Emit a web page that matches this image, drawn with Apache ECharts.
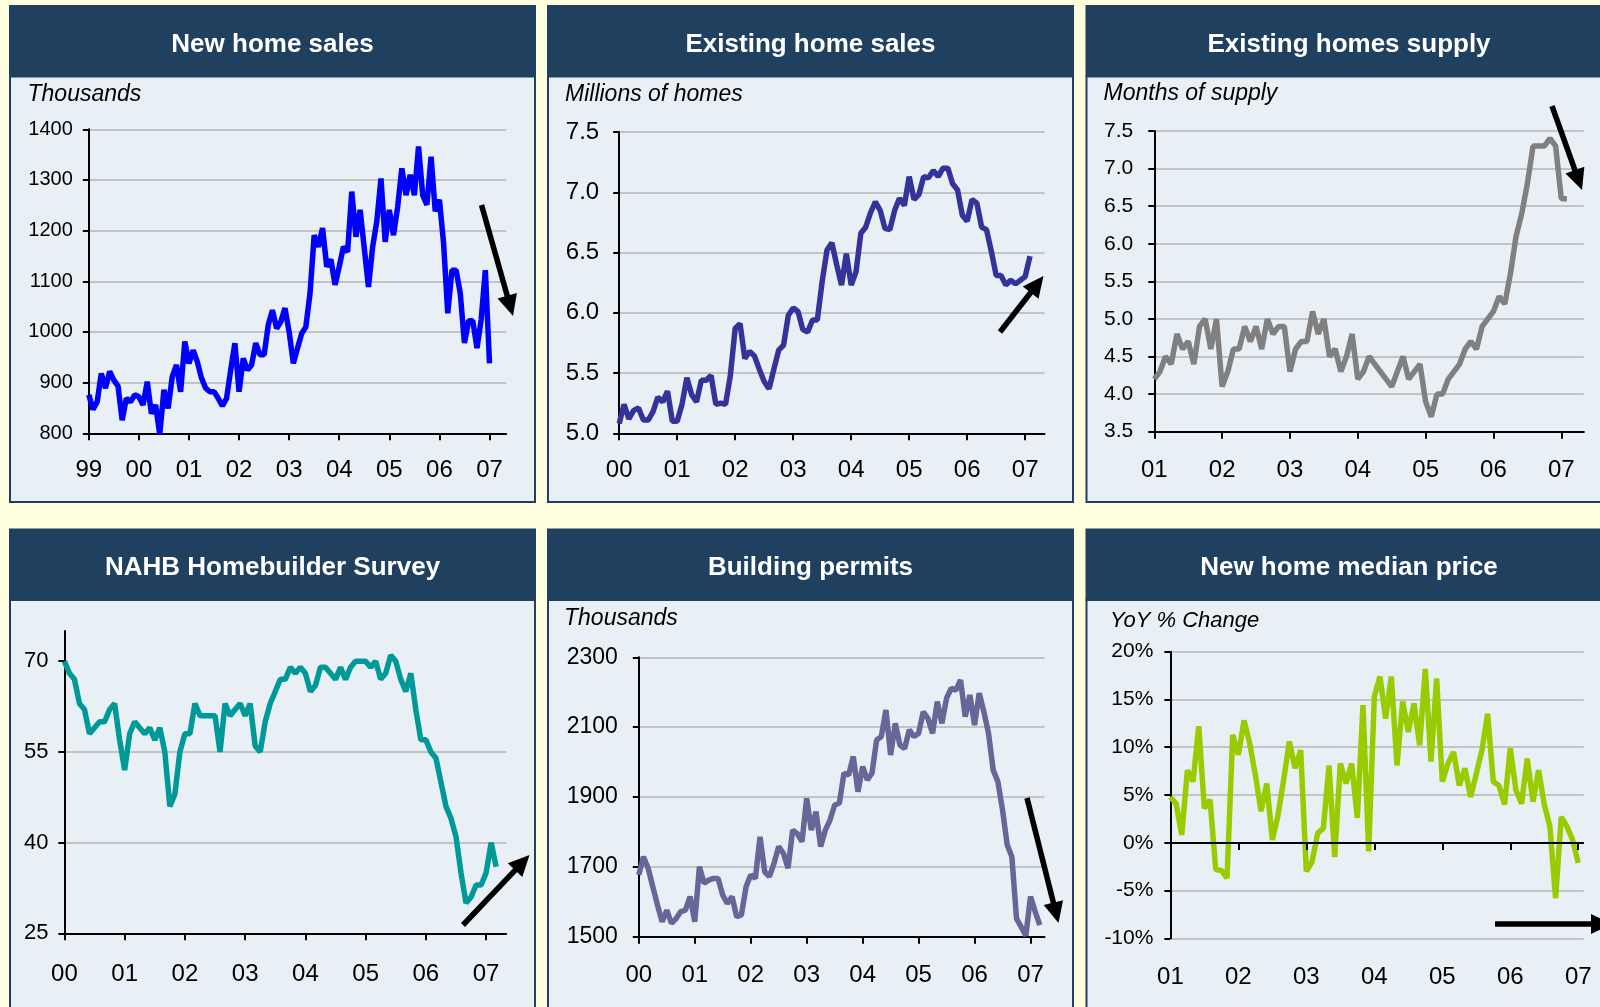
<!DOCTYPE html>
<html>
<head>
<meta charset="utf-8">
<script src="https://cdn.jsdelivr.net/npm/echarts@6/dist/echarts.min.js"></script>
<style>
  html, body { margin: 0; padding: 0; background: #ffffe0; }
  #main { width: 1600px; height: 1007px; }
</style>
</head>
<body>
<div id="main"></div>
<script>
// year tick labels, one per January
var years99 = ['99', '00', '01', '02', '03', '04', '05', '06', '07']
var years00 = ['00', '01', '02', '03', '04', '05', '06', '07']
var years01 = ['01', '02', '03', '04', '05', '06', '07']

// monthly values
var newHomeSales = [876, 847, 862, 918, 889, 922, 905, 893, 826, 869, 862, 876,
  872, 856, 902, 839, 856, 798, 886, 849, 912, 935, 882, 981,
  938, 964, 941, 909, 889, 882, 882, 869, 854, 869, 925, 978,
  882, 948, 925, 935, 978, 955, 955, 1014, 1043, 1007, 1020, 1047,
  1000, 938, 968, 997, 1010, 1076, 1191, 1168, 1205, 1129, 1143, 1093,
  1129, 1168, 1158, 1277, 1188, 1241, 1165, 1089, 1168, 1218, 1303, 1178,
  1241, 1191, 1247, 1323, 1270, 1310, 1270, 1366, 1270, 1251, 1346, 1238,
  1261, 1175, 1037, 1122, 1122, 1076, 978, 1022, 1022, 968, 1024, 1122,
  938]

var existingHomeSales = [5.08, 5.24, 5.12, 5.19, 5.21, 5.11, 5.11, 5.18, 5.30, 5.26, 5.35, 5.10,
  5.10, 5.24, 5.46, 5.32, 5.26, 5.44, 5.44, 5.48, 5.24, 5.25, 5.24, 5.48,
  5.87, 5.91, 5.62, 5.68, 5.64, 5.53, 5.43, 5.37, 5.53, 5.69, 5.73, 5.98,
  6.04, 6.01, 5.86, 5.84, 5.94, 5.94, 6.26, 6.52, 6.58, 6.40, 6.23, 6.49,
  6.23, 6.34, 6.66, 6.71, 6.83, 6.92, 6.85, 6.70, 6.69, 6.85, 6.95, 6.89,
  7.13, 6.94, 6.98, 7.13, 7.12, 7.18, 7.13, 7.20, 7.20, 7.07, 7.02, 6.81,
  6.76, 6.94, 6.91, 6.71, 6.69, 6.51, 6.31, 6.31, 6.23, 6.27, 6.24, 6.27,
  6.30, 6.47]

var monthsSupply = [4.2, 4.3, 4.5, 4.4, 4.8, 4.6, 4.7, 4.4, 4.9, 5.0, 4.6, 5.0,
  4.1, 4.3, 4.6, 4.6, 4.9, 4.7, 4.9, 4.6, 5.0, 4.8, 4.9, 4.9,
  4.3, 4.6, 4.7, 4.7, 5.1, 4.8, 5.0, 4.5, 4.6, 4.3, 4.5, 4.8,
  4.2, 4.3, 4.5, 4.4, 4.3, 4.2, 4.1, 4.3, 4.5, 4.2, 4.3, 4.4,
  3.9, 3.7, 4.0, 4.0, 4.2, 4.3, 4.4, 4.6, 4.7, 4.6, 4.9, 5.0,
  5.1, 5.3, 5.2, 5.6, 6.1, 6.4, 6.8, 7.3, 7.3, 7.3, 7.4, 7.3,
  6.6, 6.6]

var nahbIndex = [70, 68, 67, 63, 62, 58, 59, 60, 60, 62, 63, 57,
  52, 58, 60, 59, 58, 59, 57, 59, 55, 46, 48, 55,
  58, 58, 63, 61, 61, 61, 61, 55, 63, 61, 62, 63,
  61, 63, 56, 55, 60, 63, 65, 67, 67, 69, 68, 69,
  68, 65, 66, 69, 69, 68, 67, 69, 67, 69, 70, 70,
  70, 69, 70, 67, 68, 71, 70, 67, 65, 68, 62, 57,
  57, 55, 54, 50, 46, 44, 41, 35, 30, 31, 33, 33,
  35, 40, 36]

var buildingPermits = [1677, 1729, 1696, 1643, 1591, 1543, 1576, 1538, 1552, 1572, 1576, 1615,
  1543, 1700, 1653, 1662, 1667, 1667, 1619, 1595, 1615, 1557, 1562, 1643,
  1677, 1667, 1786, 1686, 1672, 1710, 1758, 1739, 1696, 1805, 1795, 1772,
  1896, 1805, 1858, 1758, 1805, 1834, 1877, 1882, 1968, 1963, 2016, 1915,
  1987, 1949, 1968, 2063, 2073, 2149, 2020, 2111, 2049, 2039, 2092, 2073,
  2082, 2144, 2125, 2082, 2173, 2111, 2183, 2211, 2206, 2235, 2130, 2192,
  2106, 2197, 2144, 2082, 1977, 1944, 1863, 1763, 1729, 1552, 1528, 1503,
  1615, 1572, 1533]

var medianPriceYoY = [4.8, 4.1, 0.8, 7.6, 6.4, 12.2, 3.6, 4.5, -2.8, -2.9, -3.7, 11.3,
  9.2, 12.8, 10.4, 7.1, 3.3, 6.2, 0.3, 2.9, 6.6, 10.6, 7.8, 9.7,
  -3.0, -2.0, 1.0, 1.5, 8.1, -1.5, 8.3, 6.2, 8.3, 2.6, 14.4, -0.9,
  15.3, 17.4, 13.0, 17.4, 8.1, 14.8, 11.6, 14.6, 10.2, 18.2, 8.5, 17.2,
  6.4, 8.3, 9.5, 6.0, 7.8, 4.8, 7.2, 9.7, 13.5, 6.4, 6.0, 4.0,
  9.9, 5.5, 4.1, 8.8, 4.3, 7.6, 4.0, 1.7, -5.8, 2.7, 1.7, 0.3,
  -2.1]

var FONT = '"Liberation Sans", Arial, sans-serif'

// month categories: the axis runs a little past the last point
function months(years, n) {
  var out = []
  for (var i = 0; i < n; i++) out.push(years[Math.floor(i / 12)] + '/' + (i % 12 + 1))
  return out
}
function janOnly(index) { return index % 12 === 0 }
function yearOf(v, i) { return i % 12 === 0 ? v.split('/')[0] : '' }

function xAx(g, data, margin, extra) {
  var ax = {
    type: 'category', gridIndex: g, data: data, boundaryGap: false,
    axisLine: { show: true, onZero: false, lineStyle: { color: '#000', width: 2 }},
    axisTick: { show: true, interval: janOnly, length: 7, lineStyle: { color: '#000', width: 2 }},
    axisLabel: { show: true, interval: janOnly, formatter: yearOf, margin: margin,
      fontSize: 24, color: '#000', fontFamily: FONT },
    splitLine: { show: false }
  }
  return Object.assign(ax, extra || {})
}

var plain = function(v) { return String(v) }
var oneDecimal = function(v) { return v.toFixed(1) }
var pct = function(v) { return v + '%' }

function yAx(g, min, max, step, size, margin, fmt, split, extra) {
  var ax = {
    type: 'value', gridIndex: g, min: min, max: max, interval: step,
    axisLine: { show: true, lineStyle: { color: '#000', width: 2 }},
    axisTick: { show: true, length: 6, lineStyle: { color: '#000', width: 2 }},
    axisLabel: { fontSize: size, margin: margin, color: '#000', fontFamily: FONT, formatter: fmt || plain },
    splitLine: Object.assign({ show: true, showMinLine: false, showMaxLine: true,
      lineStyle: { color: '#c3c3c3', width: 2 }}, split || {})
  }
  return Object.assign(ax, extra || {})
}

function lineSeries(g, data, color) {
  return {
    type: 'line', xAxisIndex: g, yAxisIndex: g, data: data,
    showSymbol: false, symbol: 'none', smooth: false, z: 3,
    lineStyle: { color: color, width: 5.5 }, itemStyle: { color: color }
  }
}

// panels: header bar + light body
var panelBoxes = [
  { x: 10, y: 5, title: 'New home sales' },
  { x: 548, y: 5, title: 'Existing home sales' },
  { x: 1086.5, y: 5, title: 'Existing homes supply' },
  { x: 10, y: 528.5, title: 'NAHB Homebuilder Survey' },
  { x: 548, y: 528.5, title: 'Building permits' },
  { x: 1086.5, y: 528.5, title: 'New home median price' }
]
var units = [
  { x: 27.5, y: 94.5, text: 'Thousands' },
  { x: 565, y: 94.5, text: 'Millions of homes' },
  { x: 1103.5, y: 94, text: 'Months of supply' },
  { x: 564, y: 619, text: 'Thousands' },
  { x: 1110, y: 621, text: 'YoY % Change', size: 22 }
]

var elements = []
panelBoxes.forEach(function(p) {
  elements.push({ type: 'rect', z: 0, shape: { x: p.x, y: p.y + 71.5, width: 525, height: 425.5 },
    style: { fill: '#e9f0f5', stroke: '#1f4060', lineWidth: 2 }})
  elements.push({ type: 'rect', z: 1, shape: { x: p.x - 1, y: p.y, width: 527, height: 72 },
    style: { fill: '#20405f' }})
  elements.push({ type: 'text', z: 2, style: { text: p.title, x: p.x + 262.5, y: p.y + 39.5,
    align: 'center', verticalAlign: 'middle', fill: '#fff', font: 'bold 26px ' + FONT }})
})
units.forEach(function(u) {
  elements.push({ type: 'text', z: 2, style: { text: u.text, x: u.x, y: u.y,
    align: 'left', verticalAlign: 'middle', fill: '#000',
    font: 'italic ' + (u.size || 23) + 'px ' + FONT }})
})

// black trend arrows
function arrow(x1, y1, x2, y2) {
  var dx = x2 - x1
  var dy = y2 - y1
  var len = Math.sqrt(dx * dx + dy * dy)
  var ux = dx / len
  var uy = dy / len
  var hl = 21
  var hw = 10
  var bx = x2 - ux * hl
  var by = y2 - uy * hl
  elements.push({ type: 'line', z: 100, shape: { x1: x1, y1: y1, x2: bx + ux * 3, y2: by + uy * 3 },
    style: { stroke: '#000', lineWidth: 5.5 }})
  elements.push({ type: 'polygon', z: 100,
    shape: { points: [[x2, y2], [bx - uy * hw, by + ux * hw], [bx + uy * hw, by - ux * hw]] },
    style: { fill: '#000' }})
}
arrow(481.5, 205, 513, 316)
arrow(1000, 332, 1043.5, 276)
arrow(1552, 106, 1582, 190)
arrow(463, 925, 529.5, 855)
arrow(1027, 798, 1058.5, 923)
arrow(1495, 924, 1612, 924)

var grids = [
  { left: 88.8, top: 129.3, width: 417.4, height: 304 },
  { left: 619.2, top: 132, width: 425.3, height: 301.3 },
  { left: 1154.3, top: 131, width: 429.6, height: 300.7 },
  { left: 64.4, top: 631, width: 441.8, height: 302.3 },
  { left: 638.8, top: 657.3, width: 405.7, height: 279.4 },
  { left: 1170.4, top: 651.7, width: 413.5, height: 286.6 }
].map(function(g) { return Object.assign({ containLabel: false, outerBoundsMode: 'none' }, g) })

var priceCats = months(years01, 74)

// zero line of the price panel with small year ticks hanging below it
var zeroLine = [{ yAxis: 0 }]
priceCats.forEach(function(c, i) {
  if (i % 12 === 0 && i > 0) zeroLine.push([{ coord: [i, 0] }, { coord: [i, -0.75] }])
})
var priceSeries = lineSeries(5, medianPriceYoY, '#99cc00')
priceSeries.markLine = {
  silent: true, symbol: 'none', animation: false,
  label: { show: false },
  lineStyle: { color: '#000', width: 2, type: 'solid' },
  emphasis: { disabled: true },
  data: zeroLine
}

var myChart = echarts.init(document.getElementById('main'))
var option = {
  backgroundColor: '#ffffe0',
  animation: false,
  graphic: { elements: elements },
  grid: grids,
  xAxis: [
    xAx(0, months(years99, 101), 25),
    xAx(1, months(years00, 89), 25),
    xAx(2, months(years01, 77), 27),
    xAx(3, months(years00, 89), 29),
    xAx(4, months(years00, 88), 27),
    xAx(5, priceCats, 27, { axisLine: { show: false }, axisTick: { show: false }})
  ],
  yAxis: [
    yAx(0, 800, 1400, 100, 20, 16),
    yAx(1, 5.0, 7.5, 0.5, 24, 20, oneDecimal),
    yAx(2, 3.5, 7.5, 0.5, 21, 21, oneDecimal),
    yAx(3, 25, 75, 15, 22, 16, function(v) { return v > 70 ? '' : String(v) }, { showMaxLine: false },
      { axisTick: { show: true, length: 6, customValues: [25, 40, 55, 70], lineStyle: { color: '#000', width: 2 }}}),
    yAx(4, 1500, 2300, 200, 23, 21),
    yAx(5, -10, 20, 5, 21, 17, pct, { showMinLine: true })
  ],
  series: [
    lineSeries(0, newHomeSales, '#0000ff'),
    lineSeries(1, existingHomeSales, '#333399'),
    lineSeries(2, monthsSupply, '#808080'),
    lineSeries(3, nahbIndex, '#009999'),
    lineSeries(4, buildingPermits, '#666699'),
    priceSeries
  ]
}
myChart.setOption(option)
</script>
</body>
</html>
